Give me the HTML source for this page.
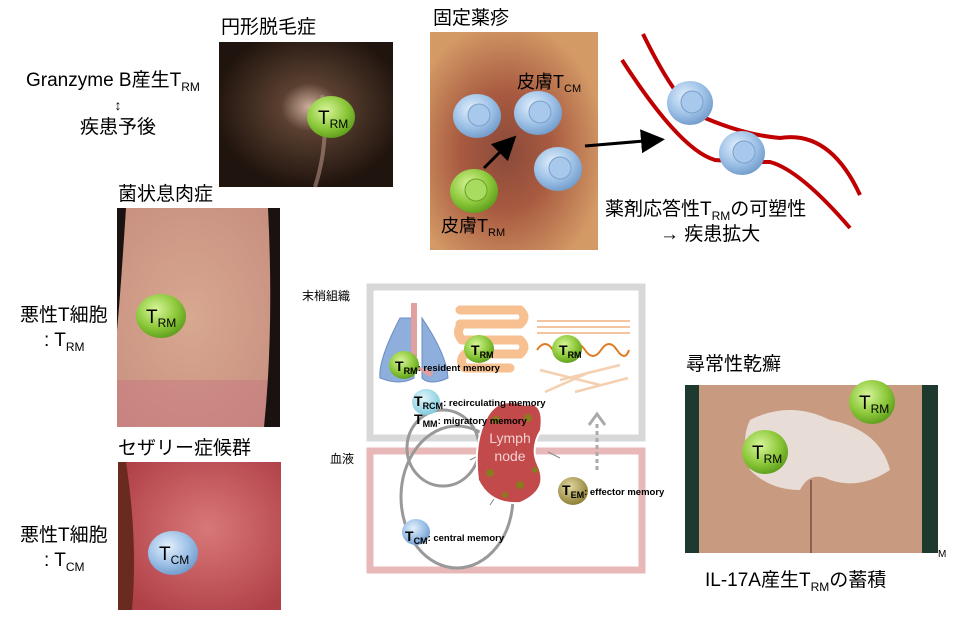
<!DOCTYPE html>
<html><head><meta charset="utf-8"><style>
html,body{margin:0;padding:0;background:#fff;width:960px;height:620px;overflow:hidden}
svg{display:block;font-family:"Liberation Sans","Noto Sans CJK JP",sans-serif}
</style></head><body>
<svg width="960" height="620" viewBox="0 0 960 620" xmlns="http://www.w3.org/2000/svg">
<defs>
<radialGradient id="g" cx="40%" cy="35%" r="70%"><stop offset="0" stop-color="#d8f59a"/><stop offset="0.6" stop-color="#8cc83a"/><stop offset="1" stop-color="#5a9a1a"/></radialGradient>
<radialGradient id="b" cx="40%" cy="35%" r="70%"><stop offset="0" stop-color="#e4f0fc"/><stop offset="0.6" stop-color="#9cc0e6"/><stop offset="1" stop-color="#6e98c8"/></radialGradient>
<radialGradient id="lb" cx="40%" cy="35%" r="70%"><stop offset="0" stop-color="#e0f6fa"/><stop offset="1" stop-color="#7cc8dc"/></radialGradient>
<radialGradient id="ol" cx="40%" cy="35%" r="70%"><stop offset="0" stop-color="#e2d8a0"/><stop offset="1" stop-color="#8a7a30"/></radialGradient>
<radialGradient id="hair" cx="52%" cy="45%" r="55%"><stop offset="0" stop-color="#d0b0a0"/><stop offset="0.3" stop-color="#5a4030"/><stop offset="1" stop-color="#20140e"/></radialGradient>
<radialGradient id="fde" cx="45%" cy="55%" r="60%"><stop offset="0" stop-color="#8a4a3a"/><stop offset="0.45" stop-color="#a85a40"/><stop offset="1" stop-color="#d39a66"/></radialGradient>
<radialGradient id="mf" cx="45%" cy="50%" r="65%"><stop offset="0" stop-color="#d8a890"/><stop offset="1" stop-color="#c89080"/></radialGradient>
<radialGradient id="sz" cx="55%" cy="45%" r="65%"><stop offset="0" stop-color="#d87878"/><stop offset="1" stop-color="#b04048"/></radialGradient>
<marker id="ah" markerWidth="8" markerHeight="8" refX="5" refY="4" orient="auto"><path d="M0,0 L8,4 L0,8 z" fill="#000"/></marker>
</defs>

<text x="26" y="86" font-size="19">Granzyme B産生T<tspan font-size="12" dy="5">RM</tspan></text>
<text x="118" y="110" font-size="14" text-anchor="middle">↕</text>
<text x="118" y="133" font-size="19" text-anchor="middle">疾患予後</text>
<text x="20" y="321" font-size="19">悪性T細胞</text>
<text x="44" y="346" font-size="19">: T<tspan font-size="12" dy="5">RM</tspan></text>
<text x="20" y="541" font-size="19">悪性T細胞</text>
<text x="44" y="566" font-size="19">: T<tspan font-size="12" dy="5">CM</tspan></text>

<text x="221" y="33" font-size="19">円形脱毛症</text>
<rect x="219" y="42" width="174" height="145" fill="url(#hair)"/>
<path d="M322,95 Q330,140 315,187" stroke="#b09080" stroke-width="4" fill="none" opacity="0.6"/>
<ellipse cx="331" cy="117" rx="24" ry="21" fill="url(#g)"/>
<text x="318" y="124" font-size="19">T<tspan font-size="12" dy="4">RM</tspan></text>

<text x="118" y="200" font-size="19">菌状息肉症</text>
<rect x="117" y="208" width="163" height="219" fill="url(#mf)"/>
<rect x="117" y="380" width="163" height="47" fill="#c87880" opacity="0.5"/>
<path d="M268,208 L280,208 L280,427 L264,427 Q274,330 268,208z" fill="#1a1210"/>
<path d="M117,208 L126,208 Q120,300 117,330z" fill="#1a1210"/>
<ellipse cx="161" cy="316" rx="25" ry="22" fill="url(#g)"/>
<text x="146" y="323" font-size="19">T<tspan font-size="12" dy="4">RM</tspan></text>

<text x="118" y="454" font-size="19">セザリー症候群</text>
<rect x="118" y="462" width="163" height="148" fill="url(#sz)"/>
<path d="M118,462 L126,462 Q138,540 132,610 L118,610z" fill="#6a2a20"/>
<ellipse cx="173" cy="553" rx="25" ry="22" fill="url(#b)"/>
<text x="159" y="560" font-size="19">T<tspan font-size="12" dy="4">CM</tspan></text>

<text x="433" y="24" font-size="19">固定薬疹</text>
<rect x="430" y="32" width="168" height="218" fill="url(#fde)"/>
<g>
<ellipse cx="477" cy="116" rx="24" ry="22" fill="url(#b)"/><circle cx="479" cy="115" r="11" fill="#a8c8ec" stroke="#7aa0cc"/>
<ellipse cx="538" cy="113" rx="24" ry="22" fill="url(#b)"/><circle cx="540" cy="112" r="11" fill="#a8c8ec" stroke="#7aa0cc"/>
<ellipse cx="558" cy="169" rx="24" ry="22" fill="url(#b)"/><circle cx="560" cy="168" r="11" fill="#a8c8ec" stroke="#7aa0cc"/>
<ellipse cx="474" cy="191" rx="24" ry="22" fill="url(#g)"/><circle cx="476" cy="190" r="11" fill="#a8dc60" stroke="#6aa028"/>
</g>
<text x="517" y="88" font-size="18">皮膚T<tspan font-size="11" dy="4">CM</tspan></text>
<text x="441" y="232" font-size="18">皮膚T<tspan font-size="11" dy="4">RM</tspan></text>
<line x1="484" y1="168" x2="510" y2="142" stroke="#000" stroke-width="3" marker-end="url(#ah)"/>
<line x1="585" y1="146" x2="656" y2="140" stroke="#000" stroke-width="3" marker-end="url(#ah)"/>
<path d="M643,34 Q680,110 705,118 Q745,135 780,138 Q830,130 860,195" stroke="#c00000" stroke-width="4" fill="none"/>
<path d="M622,60 Q680,150 715,160 Q740,162 770,162 Q800,170 850,228" stroke="#c00000" stroke-width="4" fill="none"/>
<ellipse cx="690" cy="103" rx="23" ry="22" fill="url(#b)"/><circle cx="692" cy="102" r="11" fill="#a8c8ec" stroke="#7aa0cc"/>
<ellipse cx="742" cy="153" rx="23" ry="22" fill="url(#b)"/><circle cx="744" cy="152" r="11" fill="#a8c8ec" stroke="#7aa0cc"/>
<text x="605" y="215" font-size="19">薬剤応答性T<tspan font-size="12" dy="5">RM</tspan><tspan dy="-5">の可塑性</tspan></text>
<text x="660" y="240" font-size="19">→ 疾患拡大</text>

<text x="302" y="300" font-size="12">末梢組織</text>
<text x="330" y="463" font-size="12">血液</text>
<rect x="370" y="287" width="272" height="151" fill="none" stroke="#d8d8d8" stroke-width="7"/>
<rect x="370" y="451" width="272" height="119" fill="none" stroke="#e8b8b8" stroke-width="7"/>
<path d="M400,318 Q378,360 380,378 Q400,386 414,378 L414,318z" fill="#8eaedc" stroke="#6a8cc0"/>
<path d="M422,318 Q447,355 448,378 Q430,386 422,378z" fill="#8eaedc" stroke="#6a8cc0"/>
<path d="M411,303 L417,303 L417,366 L434,372 L430,377 L411,365z" fill="#e0a0a0"/>
<g stroke="#f6c090" stroke-width="9" fill="none" stroke-linecap="round">
<path d="M460,310 L520,310 M460,324 L520,324 M462,340 L520,340 M465,354 L520,354 M465,368 L510,368"/>
<path d="M520,310 Q528,317 520,324 M462,324 Q455,332 462,340 M520,340 Q528,347 520,354 M465,354 Q458,361 465,368"/>
</g>
<path d="M537,327 L630,327 M537,333 L630,333 M537,321 L630,321" stroke="#f0b080" stroke-width="1.5"/>
<path d="M537,350 q8,-12 16,0 t16,0 t16,0 t16,0 t16,0 t12,0" stroke="#e07a20" stroke-width="2" fill="none"/>
<path d="M540,370 L600,385 M560,380 L620,365 M575,392 L628,378 M545,392 L590,372" stroke="#f4d0b0" stroke-width="2.5"/>
<ellipse cx="404" cy="365" rx="15" ry="14" fill="url(#g)"/>
<text x="395" y="371" font-size="14" font-weight="bold">T<tspan font-size="9" dy="3">RM</tspan><tspan dy="-3" font-size="9.5">: resident memory</tspan></text>
<ellipse cx="479" cy="349" rx="15" ry="14" fill="url(#g)"/>
<text x="471" y="355" font-size="14" font-weight="bold">T<tspan font-size="9" dy="3">RM</tspan></text>
<ellipse cx="567" cy="349" rx="15" ry="14" fill="url(#g)"/>
<text x="559" y="355" font-size="14" font-weight="bold">T<tspan font-size="9" dy="3">RM</tspan></text>
<ellipse cx="443" cy="448" rx="36" ry="38" fill="none" stroke="#999" stroke-width="3"/>
<ellipse cx="457" cy="497" rx="56" ry="71" fill="none" stroke="#999" stroke-width="3"/>
<path d="M480,455 L470,460 M548,452 L560,458 M500,490 L490,505" stroke="#888" stroke-width="1"/>
<path d="M488,415 Q500,396 525,405 Q545,400 541,430 Q530,448 538,465 Q550,490 520,503 Q490,505 478,480 Q473,440 488,415z" fill="#c24a4a" stroke="#fff" stroke-width="2"/>
<g fill="#8a7a20"><circle cx="496" cy="420" r="4"/><circle cx="528" cy="418" r="4"/><circle cx="490" cy="473" r="4"/><circle cx="520" cy="485" r="4"/><circle cx="535" cy="470" r="3"/><circle cx="505" cy="495" r="3"/></g>
<text x="510" y="443" font-size="14" fill="#f2d0d0" text-anchor="middle">Lymph</text>
<text x="510" y="461" font-size="14" fill="#f2d0d0" text-anchor="middle">node</text>
<ellipse cx="426" cy="402" rx="14" ry="13" fill="url(#lb)"/>
<text x="414" y="406" font-size="14" font-weight="bold">T<tspan font-size="9" dy="3">RCM</tspan><tspan dy="-3" font-size="9.5">: recirculating memory</tspan></text>
<text x="414" y="424" font-size="14" font-weight="bold">T<tspan font-size="9" dy="3">MM</tspan><tspan dy="-3" font-size="9.5">: migratory memory</tspan></text>
<ellipse cx="416" cy="532" rx="14" ry="13" fill="url(#b)"/>
<text x="405" y="541" font-size="14" font-weight="bold">T<tspan font-size="9" dy="3">CM</tspan><tspan dy="-3" font-size="9.5">: central memory</tspan></text>
<ellipse cx="573" cy="491" rx="15" ry="14" fill="url(#ol)"/>
<text x="562" y="495" font-size="14" font-weight="bold">T<tspan font-size="9" dy="3">EM</tspan><tspan dy="-3" font-size="9.5">: effector memory</tspan></text>
<line x1="597" y1="470" x2="597" y2="422" stroke="#aaa" stroke-width="3" stroke-dasharray="4,3"/>
<path d="M589,425 L597,414 L605,425" stroke="#aaa" stroke-width="3" fill="none"/>

<text x="686" y="370" font-size="19">尋常性乾癬</text>
<rect x="685" y="385" width="253" height="168" fill="#c89a80"/>
<rect x="685" y="385" width="14" height="168" fill="#1e3a2e"/>
<rect x="922" y="385" width="16" height="168" fill="#1e3a2e"/>
<path d="M750,420 Q790,400 830,420 Q880,430 890,470 Q860,490 830,480 Q810,470 800,490 Q770,490 750,470 Q740,440 750,420z" fill="#e8ddd6"/>
<line x1="811" y1="480" x2="811" y2="553" stroke="#8a6050" stroke-width="2"/>
<ellipse cx="765" cy="452" rx="23" ry="22" fill="url(#g)"/>
<text x="752" y="459" font-size="19">T<tspan font-size="12" dy="4">RM</tspan></text>
<ellipse cx="872" cy="402" rx="23" ry="22" fill="url(#g)"/>
<text x="859" y="409" font-size="19">T<tspan font-size="12" dy="4">RM</tspan></text>
<text x="938" y="557" font-size="10">M</text>
<text x="705" y="586" font-size="19">IL-17A産生T<tspan font-size="12" dy="5">RM</tspan><tspan dy="-5">の蓄積</tspan></text>
</svg>
</body></html>
